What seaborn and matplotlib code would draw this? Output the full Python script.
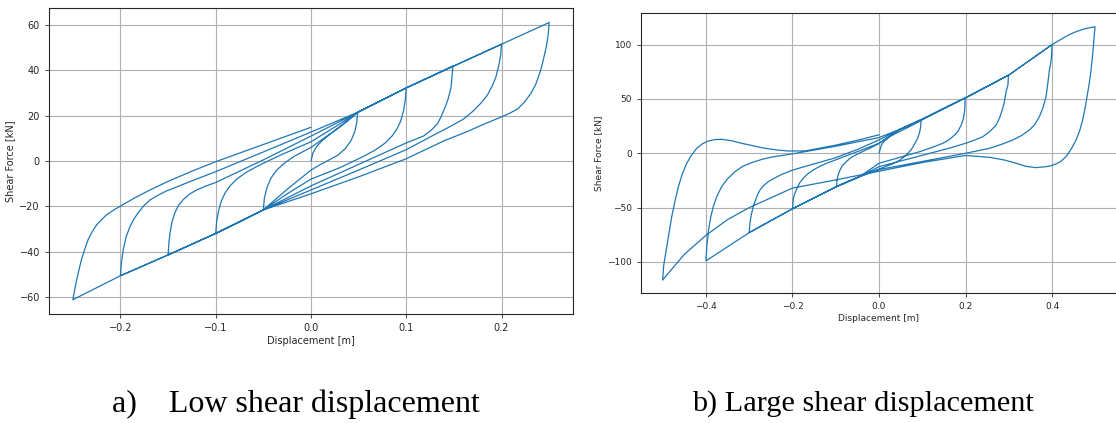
import numpy as np
import pandas as pd
import matplotlib
matplotlib.use("Agg")
import matplotlib.pyplot as plt
import seaborn as sns

# ---------------- data: panel a (low shear displacement) ----------------
disp_a = [
    # initial loading
    0.0, 0.002, 0.006, 0.013, 0.022, 0.031, 0.040, 0.049,
    # unload 0.05 -> -0.05
    0.048, 0.046, 0.042, 0.036, 0.028, 0.017, 0.008, 0.0, -0.025, -0.05,
    # reload -0.05 -> 0.1
    -0.049, -0.046, -0.042, -0.036, -0.028, -0.018, -0.008, 0.0, 0.025, 0.049, 0.075, 0.1,
    # unload 0.1 -> -0.1
    0.099, 0.097, 0.094, 0.09, 0.085, 0.078, 0.068, 0.055, 0.03, 0.0, -0.025, -0.05, -0.075, -0.1,
    # reload -0.1 -> 0.15
    -0.099, -0.097, -0.094, -0.09, -0.085, -0.078, -0.068, -0.055, -0.03, 0.0, 0.025, 0.049, 0.1, 0.149,
    # unload 0.15 -> -0.15
    0.148, 0.147, 0.144, 0.141, 0.137, 0.133, 0.126, 0.118, 0.1, 0.05, 0.0, -0.05, -0.1, -0.15,
    # reload -0.15 -> 0.2
    -0.149, -0.148, -0.146, -0.143, -0.139, -0.134, -0.127, -0.12, -0.11, -0.1, -0.05, 0.0, 0.049, 0.1, 0.15, 0.2,
    # unload 0.2 -> -0.2
    0.199, 0.197, 0.194, 0.19, 0.185, 0.178, 0.17, 0.16, 0.145, 0.129, 0.1, 0.05, 0.0, -0.05, -0.1, -0.15, -0.2,
    # reload -0.2 -> 0.25
    -0.199, -0.197, -0.194, -0.19, -0.187, -0.183, -0.176, -0.169, -0.16, -0.151, -0.14, -0.127, -0.1,
    -0.05, 0.0, 0.049, 0.1, 0.15, 0.2, 0.25,
    # unload 0.25 -> -0.25
    0.249, 0.247, 0.244, 0.241, 0.236, 0.231, 0.224, 0.217, 0.208, 0.2, 0.18, 0.164, 0.14, 0.1, 0.05,
    0.0, -0.05, -0.1, -0.15, -0.2, -0.25,
    # reload -0.25 -> 0
    -0.2463, -0.2435, -0.241, -0.2375, -0.234, -0.23, -0.225, -0.22, -0.2147, -0.2075, -0.2, -0.185,
    -0.169, -0.15, -0.125, -0.1, -0.05, 0.0,
]
force_a = [
    0.0, 3.5, 6.5, 9.5, 12.5, 15.2, 18.2, 21.5,
    17.0, 13.0, 9.0, 5.5, 2.5, 0.0, -2.0, -4.0, -12.5, -21.6,
    -16.5, -11.5, -7.5, -4.0, -1.0, 2.0, 4.2, 6.0, 13.5, 21.5, 27.0, 32.3,
    27.0, 22.0, 17.5, 14.0, 11.0, 8.0, 5.0, 2.0, -3.0, -8.0, -14.5, -21.6, -27.0, -32.0,
    -26.5, -22.0, -17.5, -14.0, -11.0, -8.0, -5.0, -2.0, 3.0, 8.5, 15.0, 21.5, 32.3, 42.0,
    37.0, 32.5, 27.5, 24.0, 20.0, 16.6, 13.5, 11.0, 8.0, -1.5, -11.0, -21.6, -32.0, -41.5,
    -35.5, -31.9, -27.0, -23.0, -19.5, -17.0, -14.5, -12.8, -11.0, -9.5, 0.5, 11.0, 21.5, 32.3, 42.0, 51.6,
    46.5, 42.0, 37.0, 33.0, 29.0, 25.4, 22.0, 18.5, 15.0, 11.5, 5.0, -4.0, -12.8, -21.6, -32.0, -41.5, -50.7,
    -45.0, -39.0, -33.4, -29.0, -26.5, -23.8, -20.0, -17.2, -15.0, -13.1, -11.3, -9.1, -4.7,
    4.0, 12.8, 21.5, 32.3, 42.0, 51.6, 61.2,
    56.0, 50.5, 45.0, 40.0, 34.0, 30.0, 26.0, 23.0, 21.0, 19.5, 16.0, 13.0, 9.0, 1.0, -7.0,
    -14.5, -21.6, -32.0, -41.5, -50.7, -61.3,
    -53.2, -48.0, -43.7, -39.0, -34.8, -31.5, -28.2, -26.0, -23.8, -21.8, -19.9, -16.3,
    -12.8, -9.0, -4.5, -0.3, 7.3, 14.9,
]

# ---------------- data: panel b (large shear displacement) ----------------
disp_b = [
    # initial loading
    0.0, 0.0055, 0.013, 0.025, 0.04, 0.055, 0.075, 0.097,
    # unload 0.1 -> -0.1
    0.0965, 0.094, 0.0895, 0.083, 0.0755, 0.067, 0.0575, 0.0477, 0.03, 0.01, 0.0, -0.045, -0.07, -0.098,
    # reload -0.1 -> 0.2
    -0.097, -0.0945, -0.0907, -0.085, -0.075, -0.065, -0.052, -0.037, -0.0215, 0.0, 0.017, 0.03,
    0.048, 0.075, 0.098, 0.15, 0.199,
    # unload 0.2 -> -0.2
    0.1985, 0.1977, 0.195, 0.19, 0.183, 0.1746, 0.162, 0.1476, 0.12, 0.094, 0.05, 0.0, -0.045,
    -0.1, -0.15, -0.2,
    # reload -0.2 -> 0.3
    -0.198, -0.1955, -0.1906, -0.183, -0.1753, -0.165, -0.152, -0.137, -0.1213, -0.09, -0.05, 0.0,
    0.048, 0.1, 0.15, 0.2, 0.25, 0.2992,
    # unload 0.3 -> -0.3
    0.298, 0.2938, 0.29, 0.286, 0.279, 0.2708, 0.256, 0.24, 0.22, 0.2, 0.165, 0.132, 0.07, 0.0,
    -0.045, -0.1, -0.15, -0.2, -0.25, -0.3,
    # reload -0.3 -> 0.4
    -0.298, -0.2944, -0.2905, -0.2867, -0.281, -0.2752, -0.266, -0.256, -0.24, -0.225, -0.2, -0.17,
    -0.13, -0.1, -0.05, 0.0, 0.048, 0.1, 0.2, 0.3, 0.35, 0.4,
    # unload 0.4 -> -0.4
    0.3985, 0.3965, 0.3938, 0.39, 0.386, 0.379, 0.3707, 0.36, 0.3476, 0.33, 0.309, 0.285, 0.2554,
    0.2, 0.1, 0.0, -0.045, -0.1, -0.2, -0.3, -0.35, -0.4,
    # reload -0.4 -> 0.5
    -0.398, -0.396, -0.394, -0.389, -0.383, -0.374, -0.3636, -0.35, -0.3329, -0.315, -0.2944, -0.27,
    -0.248, -0.2, -0.1, 0.0, 0.048, 0.1, 0.2, 0.3, 0.35, 0.4, 0.4245, 0.44, 0.4553, 0.475, 0.4992,
    # unload 0.5 -> -0.5
    0.4975, 0.4953, 0.493, 0.49, 0.4865, 0.482, 0.477, 0.4706, 0.464, 0.4553, 0.445, 0.4322, 0.42,
    0.409, 0.397, 0.386, 0.363, 0.34, 0.317, 0.29, 0.2554, 0.2, 0.1, 0.0, -0.1, -0.2, -0.3, -0.35,
    -0.4, -0.45, -0.5,
    # reload -0.5 -> 0
    -0.4975, -0.4905, -0.485, -0.479, -0.4715, -0.4636, -0.455, -0.4443, -0.433, -0.4212, -0.408,
    -0.3944, -0.38, -0.3636, -0.34, -0.3174, -0.29, -0.2637, -0.235, -0.21, -0.17, -0.1, -0.05, 0.0,
]
force_b = [
    0.0, 7.6, 11.5, 15.3, 18.5, 21.4, 25.5, 30.0,
    25.0, 19.5, 14.0, 9.0, 4.0, 0.0, -3.5, -6.5, -10.0, -13.0, -14.5, -21.5, -25.5, -30.5,
    -25.0, -20.0, -16.0, -11.5, -7.5, -4.0, -1.2, 1.8, 4.6, 9.0, 13.8, 17.0,
    22.0, 26.5, 30.5, 41.0, 51.0,
    44.0, 38.3, 32.0, 26.0, 20.5, 16.8, 12.5, 9.2, 5.0, 1.5, -3.5, -9.2, -21.5,
    -31.0, -41.0, -51.2,
    -42.0, -38.0, -33.0, -27.0, -23.0, -19.0, -15.4, -12.0, -9.2, -4.5, 1.5, 9.2,
    22.0, 31.0, 41.5, 51.2, 61.5, 72.0,
    63.0, 56.7, 48.0, 41.4, 33.0, 26.0, 20.0, 15.3, 12.0, 9.2, 5.0, 1.5, -5.0, -12.3,
    -21.5, -31.0, -41.0, -51.2, -62.0, -73.0,
    -63.0, -55.2, -49.0, -44.5, -38.5, -33.8, -29.5, -26.1, -22.5, -19.5, -15.5, -12.0,
    -7.5, -4.0, 3.5, 12.3, 22.0, 31.5, 51.0, 72.0, 86.0, 100.0,
    88.0, 82.0, 76.6, 64.0, 52.1, 42.0, 33.7, 26.5, 21.4, 16.5, 12.2, 8.5, 4.6,
    0.0, -7.5, -15.0, -21.5, -31.0, -51.0, -73.0, -86.0, -99.0,
    -86.0, -79.0, -70.6, -59.0, -49.0, -39.0, -30.7, -23.5, -16.9, -12.0, -8.6, -5.5,
    -3.5, -0.5, 6.5, 14.5, 22.0, 31.5, 51.0, 72.0, 86.0, 100.0, 105.8, 109.2, 111.9, 114.5, 116.5,
    108.0, 98.0, 88.0, 76.6, 66.0, 55.2, 43.0, 30.6, 21.0, 12.2, 4.5, -3.1, -7.5,
    -9.8, -11.5, -12.3, -13.2, -12.0, -9.2, -6.2, -3.7, -2.0, -8.5, -16.5, -24.5, -32.0, -50.0, -61.0,
    -75.5, -93.0, -116.6,
    -103.0, -85.9, -72.0, -58.3, -44.0, -30.7, -19.5, -9.2, -1.5, 4.6, 8.8,
    11.3, 12.6, 12.9, 11.5, 9.2, 6.8, 4.6, 3.0, 2.1, 2.2, 7.5, 12.0, 17.0,
]

xticks_a = [-0.2, -0.1, 0.0, 0.1, 0.2]
yticks_a = [-60, -40, -20, 0, 20, 40, 60]
xticks_b = [-0.4, -0.2, 0.0, 0.2, 0.4]
yticks_b = [-100, -50, 0, 50, 100]
captions = ["a)    Low shear displacement", "b) Large shear displacement"]

# ---------------- styling ----------------
sns.set_style("ticks", {"axes.grid": True, "grid.color": "#b0b0b0",
                        "axes.edgecolor": "0.15"})
plt.rcParams["font.family"] = ["DejaVu Sans"]

W, H = 1116, 423
fig = plt.figure(figsize=(W / 100, H / 100), dpi=100)

def px_axes(left, top, right, bottom):
    return fig.add_axes([left / W, 1 - bottom / H, (right - left) / W, (bottom - top) / H])

ax_a = px_axes(49, 8, 573, 314)
ax_b = px_axes(641, 13.3, 1117, 293.3)

line_color = "#1f77b4"
df_a = pd.DataFrame({"x": disp_a, "y": force_a})
df_b = pd.DataFrame({"x": disp_b, "y": force_b})
sns.lineplot(data=df_a, x="x", y="y", sort=False, estimator=None, ax=ax_a,
             color=line_color, linewidth=0.9)
sns.lineplot(data=df_b, x="x", y="y", sort=False, estimator=None, ax=ax_b,
             color=line_color, linewidth=0.9)

for ax, xt, yt, fs in [(ax_a, xticks_a, yticks_a, 7), (ax_b, xticks_b, yticks_b, 6.5)]:
    ax.set_xticks(xt)
    ax.set_yticks(yt)
    ax.tick_params(labelsize=fs, length=3, width=0.6, color="0.15")
    ax.set_xlabel("Displacement [m]", fontsize=fs, labelpad=2)
    ax.set_ylabel("Shear Force [kN]", fontsize=fs, labelpad=3)
    ax.grid(True, color="#b0b0b0", linewidth=0.8)
    for s in ax.spines.values():
        s.set_linewidth(0.8)
        s.set_visible(True)

ax_a.set_xlim(-0.275, 0.275)
ax_a.set_ylim(-67.6, 67.6)
ax_b.set_xlim(-0.55, 0.55)
ax_b.set_ylim(-128.8, 128.8)

fig.text(295.5 / W, 1 - 404 / H, captions[0], ha="center", va="center",
         fontsize=23, family=["Liberation Serif"], color="black")
fig.text(863 / W, 1 - 404 / H, captions[1], ha="center", va="center",
         fontsize=21.8, family=["Liberation Serif"], color="black")

fig.savefig("out.png", dpi=100)
